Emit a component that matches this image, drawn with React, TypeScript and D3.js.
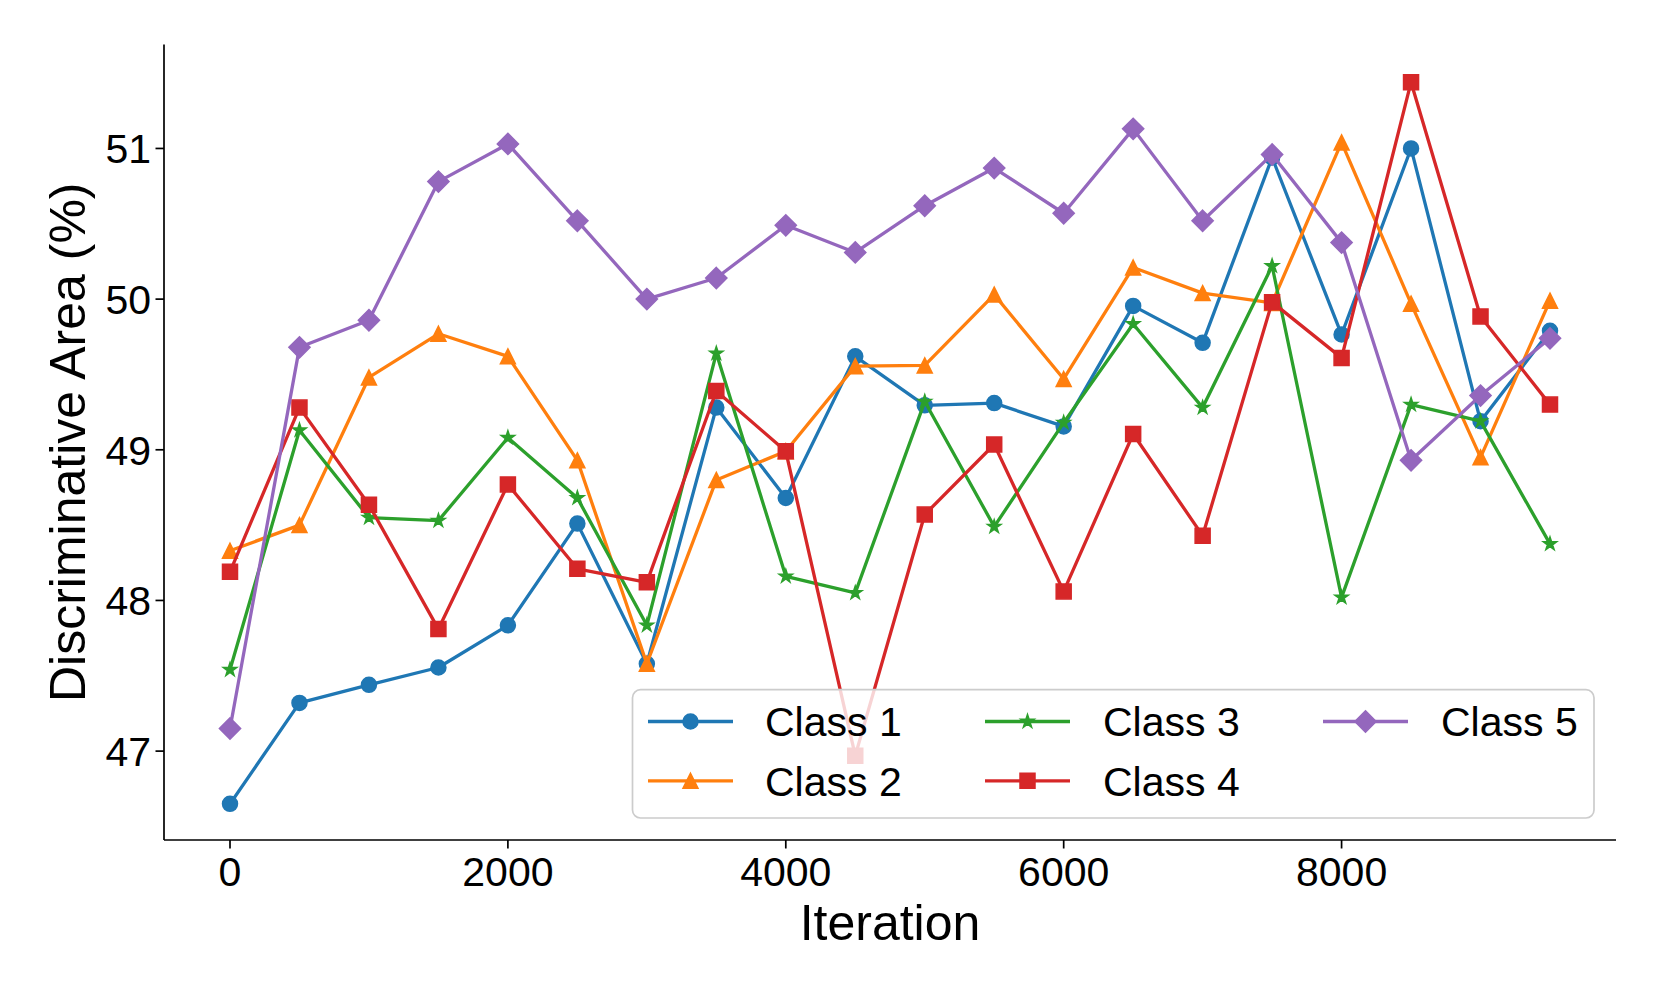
import * as d3 from "d3";

const iterations = [0, 500, 1000, 1500, 2000, 2500, 3000, 3500, 4000, 4500, 5000, 5500, 6000, 6500, 7000, 7500, 8000, 8500, 9000, 9500];

const class1 = [46.65, 47.32, 47.44, 47.555, 47.835, 48.51, 47.58, 49.28, 48.68, 49.62, 49.295, 49.31, 49.155, 49.955, 49.71, 50.94, 49.765, 51.0, 49.19, 49.79];
const class2 = [48.33, 48.5, 49.48, 49.77, 49.62, 48.93, 47.58, 48.8, 48.99, 49.555, 49.56, 50.03, 49.47, 50.21, 50.04, 49.975, 51.04, 49.97, 48.95, 49.99];
const class3 = [47.54, 49.13, 48.55, 48.53, 49.08, 48.68, 47.835, 49.64, 48.16, 48.05, 49.32, 48.49, 49.18, 49.835, 49.28, 50.22, 48.02, 49.3, 49.19, 48.375];
const class4 = [48.19, 49.28, 48.635, 47.81, 48.77, 48.21, 48.12, 49.39, 48.99, 46.97, 48.57, 49.035, 48.06, 49.105, 48.43, 49.98, 49.61, 51.44, 49.885, 49.3];
const class5 = [47.15, 49.68, 49.86, 50.78, 51.03, 50.52, 50.0, 50.14, 50.49, 50.31, 50.62, 50.87, 50.57, 51.13, 50.52, 50.96, 50.375, 48.93, 49.36, 49.74];

const seriesNames = ["Class 1", "Class 2", "Class 3", "Class 4", "Class 5"];
const xTicks = [0, 2000, 4000, 6000, 8000];
const yTicks = [47, 48, 49, 50, 51];

type Kind = "circle" | "triangle" | "star" | "square" | "diamond";

const series = [
  { name: seriesNames[0], values: class1, color: "#1f77b4", kind: "circle" as Kind },
  { name: seriesNames[1], values: class2, color: "#ff7f0e", kind: "triangle" as Kind },
  { name: seriesNames[2], values: class3, color: "#2ca02c", kind: "star" as Kind },
  { name: seriesNames[3], values: class4, color: "#d62728", kind: "square" as Kind },
  { name: seriesNames[4], values: class5, color: "#9467bd", kind: "diamond" as Kind },
];

const W = 1661;
const H = 997;
const left = 164;
const right = 1616;
const top = 44.5;
const bottom = 840;
const font = "'Liberation Sans', Arial, Helvetica, sans-serif";

function markerPath(kind: Kind, s: number) {
  const h = s / 2;
  if (kind === "circle") {
    return `M${h},0A${h},${h} 0 1,1 ${-h},0A${h},${h} 0 1,1 ${h},0Z`;
  }
  if (kind === "triangle") return `M0,${-h}L${h},${h}L${-h},${h}Z`;
  if (kind === "square") return `M${-h},${-h}H${h}V${h}H${-h}Z`;
  if (kind === "diamond") {
    const d = h * Math.SQRT2;
    return `M0,${-d}L${d},0L0,${d}L${-d},0Z`;
  }
  // five pointed star like matplotlib's '*'
  const pts: string[] = [];
  for (let i = 0; i < 10; i++) {
    const r = i % 2 === 0 ? h : h * 0.381966;
    const a = (i * Math.PI) / 5;
    pts.push(`${(r * Math.sin(a)).toFixed(2)},${(-r * Math.cos(a)).toFixed(2)}`);
  }
  return `M${pts.join("L")}Z`;
}

const markerSize: Record<Kind, number> = {
  circle: 15,
  triangle: 15,
  star: 14,
  square: 15,
  diamond: 15,
};

export default function App() {
  const x = d3.scaleLinear().domain([-475, 9975]).range([left, right]);
  const y = d3.scaleLinear().domain([46.41, 51.69]).range([bottom, top]);

  const line = d3
    .line<number>()
    .x((_, i) => x(iterations[i]))
    .y((d) => y(d));

  // legend fills column by column, like matplotlib with ncol=3
  const legendCols = [
    { lx: 648, tx: 765 },
    { lx: 985, tx: 1103 },
    { lx: 1323, tx: 1441 },
  ];
  const legendRows = [721.5, 780.8];

  return (
    <div style={{ position: "absolute", left: 0, top: 0 }}>
      <svg width={W} height={H} viewBox={`0 0 ${W} ${H}`} style={{ display: "block", background: "#fff" }}>
        {series.map((s) => (
          <g key={s.name}>
            <path d={line(s.values) ?? ""} fill="none" stroke={s.color} strokeWidth={3.3} strokeLinejoin="round" strokeLinecap="square" />
            {s.values.map((v, i) => (
              <path
                key={i}
                d={markerPath(s.kind, markerSize[s.kind])}
                transform={`translate(${x(iterations[i])},${y(v)})`}
                fill={s.color}
                stroke={s.color}
                strokeWidth={1.5}
              />
            ))}
          </g>
        ))}

        {/* spines */}
        <line x1={left} x2={left} y1={top} y2={bottom} stroke="#000" strokeWidth={1.7} />
        <line x1={left} x2={right} y1={bottom} y2={bottom} stroke="#000" strokeWidth={1.7} />

        {xTicks.map((t) => (
          <g key={t} transform={`translate(${x(t)},${bottom})`}>
            <line y1={0} y2={8.5} stroke="#000" strokeWidth={1.7} />
            <text y={46} textAnchor="middle" fontFamily={font} fontSize={41} fill="#000">
              {t}
            </text>
          </g>
        ))}
        {yTicks.map((t) => (
          <g key={t} transform={`translate(${left},${y(t)})`}>
            <line x1={0} x2={-8.5} stroke="#000" strokeWidth={1.7} />
            <text x={-13} dy="0.36em" textAnchor="end" fontFamily={font} fontSize={41} fill="#000">
              {t}
            </text>
          </g>
        ))}

        <text x={(left + right) / 2} y={940} textAnchor="middle" fontFamily={font} fontSize={50} fill="#000">
          Iteration
        </text>
        <text
          transform={`translate(${85},${(top + bottom) / 2}) rotate(-90)`}
          textAnchor="middle"
          fontFamily={font}
          fontSize={50}
          fill="#000"
        >
          Discriminative Area (%)
        </text>

        {/* legend */}
        <rect x={632.5} y={689.7} width={961.5} height={128.3} rx={8} fill="#fff" fillOpacity={0.8} stroke="#cccccc" strokeWidth={1.7} />
        {series.map((s, i) => {
          const col = legendCols[Math.floor(i / 2)];
          const ry = legendRows[i % 2];
          return (
            <g key={s.name}>
              <line x1={col.lx} x2={col.lx + 85} y1={ry} y2={ry} stroke={s.color} strokeWidth={3.3} />
              <path
                d={markerPath(s.kind, markerSize[s.kind])}
                transform={`translate(${col.lx + 42.5},${ry})`}
                fill={s.color}
                stroke={s.color}
                strokeWidth={1.5}
              />
              <text x={col.tx} y={ry} dy="0.36em" fontFamily={font} fontSize={41} fill="#000">
                {s.name}
              </text>
            </g>
          );
        })}
      </svg>
    </div>
  );
}
